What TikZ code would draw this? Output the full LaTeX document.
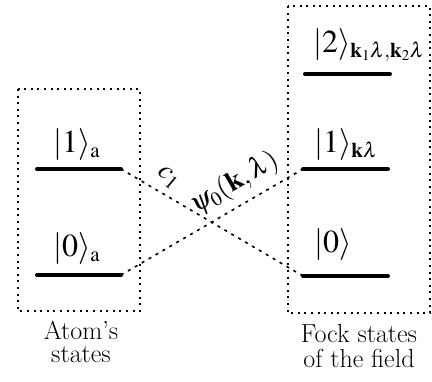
\documentclass[tikz,border=0pt]{standalone}
\usepackage{mathptmx}
\usetikzlibrary{positioning}
\DeclareMathSizes{32}{32}{21}{15}
\DeclareMathSizes{28}{28}{20}{14}

\begin{document}
\begin{tikzpicture}[x=1pt,y=-1pt,
  level/.style={line width=4pt, line cap=round},
  statebox/.style={draw, dash pattern=on 2pt off 4.6pt, line width=1.8pt},
  trans/.style={dash pattern=on 3pt off 5pt, line width=1.6pt},
  ket/.style={font=\fontsize{32}{34}\selectfont, inner sep=0pt, anchor=base west},
  amp/.style={font=\fontsize{28}{30}\selectfont, inner sep=0pt},
  caption/.style={font=\fontsize{26}{23}\selectfont, align=center, anchor=base}]
  \useasboundingbox (0,0) rectangle (432,382);

  \draw[statebox] (18,89) rectangle (140,311);
  \draw[statebox] (288,6) rectangle (430,313);

  \coordinate (a1l) at (37,169);  \coordinate (a1r) at (121,169);
  \coordinate (a0l) at (37,275);  \coordinate (a0r) at (121,275);
  \coordinate (f2l) at (305,74);  \coordinate (f2r) at (390,74);
  \coordinate (f1l) at (303,169); \coordinate (f1r) at (388,169);
  \coordinate (f0l) at (303,276); \coordinate (f0r) at (388,276);

  \draw[level] (a1l) -- (a1r);
  \draw[level] (a0l) -- (a0r);
  \draw[level] (f2l) -- (f2r);
  \draw[level] (f1l) -- (f1r);
  \draw[level] (f0l) -- (f0r);

  \node[ket] (ka1) at (53,153) {$|1\rangle_{\mathrm{a}}$};
  \node[ket] (ka0) at (53,257) {$|0\rangle_{\mathrm{a}}$};
  \node[ket] (kf2) at (313,53) {$|2\rangle_{\mathbf{k}_1\lambda{,}\mathbf{k}_2\lambda}$};
  \node[ket] (kf1) at (314,153) {$|1\rangle_{\mathbf{k}\lambda}$};
  \node[ket] (kf0) at (314,253) {$|0\rangle$};

  \draw[trans] (a1r) -- (f0l);
  \draw[trans] (a0r) -- (f1l);

  \node[amp, rotate=-40] (c1) at (168,178) {$c_1$};
  \node[amp, rotate=30] (psi) at (235,183) {$\psi_0(\mathbf{k},\lambda)$};

  \node[caption] (atom) at (81,363) {Atom's\\states};
  \node[caption, font=\fontsize{26}{25}\selectfont] (fock) at (359,368) {Fock states\\of the field};
\end{tikzpicture}
\end{document}
